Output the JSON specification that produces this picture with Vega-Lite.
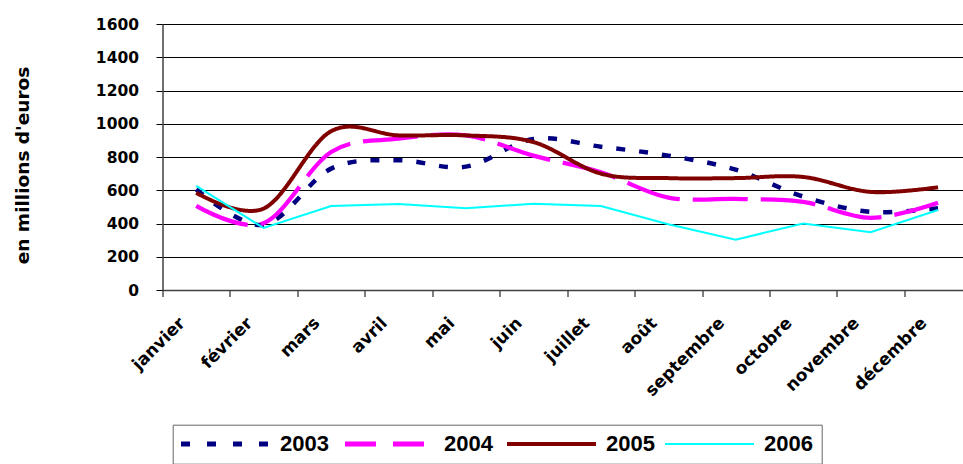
{
  "$schema": "https://vega.github.io/schema/vega-lite/v6.json",
  "autosize": {"type": "none"},
  "width": 800.5,
  "height": 266,
  "padding": {"left": 162.5, "top": 24, "right": 0, "bottom": 174},
  "background": "white",
  "config": {"view": {"stroke": null}},
  "data": {
    "values": [
      {"month": 1, "year": "2003", "value": 606},
      {"month": 2, "year": "2003", "value": 392},
      {"month": 3, "year": "2003", "value": 730},
      {"month": 4, "year": "2003", "value": 780},
      {"month": 5, "year": "2003", "value": 742},
      {"month": 6, "year": "2003", "value": 908},
      {"month": 7, "year": "2003", "value": 862},
      {"month": 8, "year": "2003", "value": 808},
      {"month": 9, "year": "2003", "value": 724},
      {"month": 10, "year": "2003", "value": 562},
      {"month": 11, "year": "2003", "value": 470},
      {"month": 12, "year": "2003", "value": 492},
      {"month": 1, "year": "2004", "value": 506},
      {"month": 2, "year": "2004", "value": 402},
      {"month": 3, "year": "2004", "value": 830},
      {"month": 4, "year": "2004", "value": 910},
      {"month": 5, "year": "2004", "value": 930},
      {"month": 6, "year": "2004", "value": 808},
      {"month": 7, "year": "2004", "value": 708},
      {"month": 8, "year": "2004", "value": 556},
      {"month": 9, "year": "2004", "value": 548},
      {"month": 10, "year": "2004", "value": 530},
      {"month": 11, "year": "2004", "value": 434},
      {"month": 12, "year": "2004", "value": 525},
      {"month": 1, "year": "2005", "value": 585},
      {"month": 2, "year": "2005", "value": 490},
      {"month": 3, "year": "2005", "value": 955},
      {"month": 4, "year": "2005", "value": 930},
      {"month": 5, "year": "2005", "value": 930},
      {"month": 6, "year": "2005", "value": 890},
      {"month": 7, "year": "2005", "value": 700},
      {"month": 8, "year": "2005", "value": 673},
      {"month": 9, "year": "2005", "value": 673},
      {"month": 10, "year": "2005", "value": 680},
      {"month": 11, "year": "2005", "value": 590},
      {"month": 12, "year": "2005", "value": 618},
      {"month": 1, "year": "2006", "value": 626},
      {"month": 2, "year": "2006", "value": 373},
      {"month": 3, "year": "2006", "value": 505},
      {"month": 4, "year": "2006", "value": 517},
      {"month": 5, "year": "2006", "value": 491},
      {"month": 6, "year": "2006", "value": 519},
      {"month": 7, "year": "2006", "value": 505},
      {"month": 8, "year": "2006", "value": 395},
      {"month": 9, "year": "2006", "value": 303},
      {"month": 10, "year": "2006", "value": 400},
      {"month": 11, "year": "2006", "value": 347},
      {"month": 12, "year": "2006", "value": 481}
    ]
  },
  "encoding": {
    "x": {
      "field": "month",
      "type": "quantitative",
      "scale": {"domain": [0.5, 12.37], "nice": false, "zero": false},
      "axis": {
        "title": null,
        "values": [1, 2, 3, 4, 5, 6, 7, 8, 9, 10, 11, 12],
        "grid": false,
        "tickOffset": -33.72,
        "labelOffset": 13.7,
        "labelExpr": "['janvier','février','mars','avril','mai','juin','juillet','août','septembre','octobre','novembre','décembre'][datum.value-1]",
        "labelAngle": -45,
        "labelAlign": "right",
        "labelBaseline": "top",
        "labelPadding": 18,
        "labelFlush": false,
        "labelOverlap": false,
        "labelBound": false,
        "labelFont": "DejaVu Sans",
        "labelFontWeight": "bold",
        "labelFontSize": 17,
        "labelColor": "#000000",
        "tickSize": 6.5,
        "tickColor": "#000000",
        "domainColor": "#404040",
        "domainWidth": 1.5
      }
    },
    "y": {
      "field": "value",
      "type": "quantitative",
      "scale": {"domain": [0, 1600], "nice": false},
      "axis": {
        "title": "en millions d'euros",
        "values": [0, 200, 400, 600, 800, 1000, 1200, 1400, 1600],
        "format": "d",
        "grid": true,
        "gridColor": "#000000",
        "gridWidth": 1,
        "tickSize": 6.5,
        "tickColor": "#000000",
        "domainColor": "#404040",
        "domainWidth": 1.5,
        "labelPadding": 17.5,
        "labelFont": "DejaVu Sans",
        "labelFontWeight": "bold",
        "labelFontSize": 15.5,
        "labelColor": "#000000",
        "titleFont": "DejaVu Sans",
        "titleFontWeight": "bold",
        "titleFontSize": 18.5,
        "titleColor": "#000000",
        "titleX": -134,
        "titleY": 141,
        "titleAngle": -90,
        "titleAlign": "center",
        "titleBaseline": "alphabetic"
      }
    },
    "color": {
      "field": "year",
      "type": "nominal",
      "scale": {
        "domain": ["2003", "2004", "2005", "2006"],
        "range": ["#000080", "#FF00FF", "#800000", "#00FFFF"]
      },
      "legend": {
        "title": null,
        "orient": "none",
        "legendX": 10.2,
        "legendY": 400.7,
        "direction": "horizontal",
        "columns": 4,
        "symbolType": "stroke",
        "symbolSize": 7921,
        "symbolStrokeWidth": 4,
        "labelFont": "Liberation Sans",
        "labelFontWeight": "bold",
        "labelFontSize": 22,
        "labelColor": "#000000",
        "labelOffset": 10,
        "columnPadding": 6,
        "padding": 8.3,
        "strokeColor": "#666666",
        "encode": {
          "symbols": {
            "update": {
              "x": {"value": 44.5},
              "strokeDash": {"signal": "datum.value === '2003' ? [9,17] : datum.value === '2004' ? [31,17] : [1,0]"},
              "strokeWidth": {"signal": "datum.value === '2003' ? 5 : datum.value === '2004' ? 5 : datum.value === '2005' ? 4 : 2"}
            }
          },
          "labels": {
            "update": {
              "x": {"value": 99}
            }
          }
        }
      }
    }
  },
  "layer": [
    {
      "transform": [{"filter": "datum.year != '2006'"}],
      "mark": {"type": "line", "interpolate": "cardinal", "tension": 0, "strokeCap": "butt", "strokeJoin": "round"},
      "encoding": {
        "strokeDash": {
          "field": "year",
          "type": "nominal",
          "scale": {"domain": ["2003", "2004", "2005"], "range": [[9, 14], [55, 13], [1, 0]]},
          "legend": null
        },
        "strokeWidth": {
          "field": "year",
          "type": "ordinal",
          "scale": {"domain": ["2003", "2004", "2005"], "range": [4.5, 4, 4]},
          "legend": null
        }
      }
    },
    {
      "transform": [{"filter": "datum.year == '2006'"}],
      "mark": {"type": "line", "interpolate": "linear", "strokeWidth": 2},
      "encoding": {}
    }
  ]
}
